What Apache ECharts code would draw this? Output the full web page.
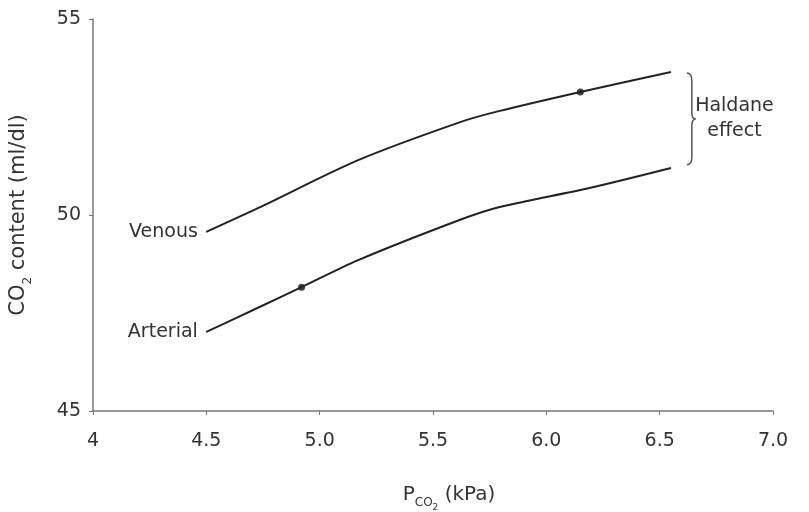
<!DOCTYPE html>
<html>
<head>
<meta charset="utf-8">
<title>Haldane effect</title>
<script src="https://cdn.jsdelivr.net/npm/echarts@6/dist/echarts.min.js"></script>
<style>
  html, body { margin: 0; padding: 0; background: #fff; }
  #chart { width: 809px; height: 512px; }
</style>
</head>
<body>
<div id="chart"></div>
<script>
// P_CO2 (kPa) and CO2 content (ml/dl)
const venousX = [4.5, 4.73, 5.17, 5.62, 5.79, 6.15, 6.55]
const venousY = [49.57, 50.18, 51.4, 52.37, 52.65, 53.14, 53.65]
const arterialX = [4.5, 4.73, 4.92, 5.17, 5.62, 5.79, 6.19, 6.55]
const arterialY = [47.02, 47.64, 48.16, 48.85, 49.88, 50.2, 50.69, 51.2]
// marked points on each curve
const pointsX = [6.15, 4.92]
const pointsY = [53.14, 48.16]
const lineNames = ['Venous', 'Arterial']
// Haldane effect bracket
const bracketX = [6.62]
const bracketY = [53.62, 51.28]
const bracketText = ['Haldane', 'effect']
const bracketTextPos = [6.83, 52.45]

const xTicks = { min: 4, max: 7, interval: 0.5 }
const yTicks = { min: 45, max: 55, interval: 5 }

const font = 'DejaVu Sans'
const textColor = '#333'

const chart = echarts.init(document.getElementById('chart'))

const pairs = (xs, ys) => xs.map((x, i) => [x, ys[i]])

// put the curve name to the left of its first point
function withStartLabel (data, text) {
  data[0] = {
    value: data[0],
    symbol: 'circle',
    symbolSize: 1,
    label: {
      show: true,
      position: 'left',
      distance: 8,
      formatter: text,
      fontFamily: font,
      fontSize: 19,
      color: textColor
    }
  }
  return data
}

const option = {
  backgroundColor: '#fff',
  animation: false,
  grid: { left: 93, right: 36, top: 19, bottom: 101, outerBoundsMode: 'none' },
  xAxis: {
    type: 'value',
    min: xTicks.min,
    max: xTicks.max,
    interval: xTicks.interval,
    splitLine: { show: false },
    axisLine: { lineStyle: { color: '#777', width: 1.5 } },
    axisTick: { length: 4, lineStyle: { color: '#777' } },
    axisLabel: {
      margin: 21,
      fontFamily: font,
      fontSize: 19,
      color: textColor,
      formatter: v => (v === 4 ? '4' : v.toFixed(1))
    },
    name: '{p|P}{s|CO}{ss|2}{p| (kPa)}',
    nameLocation: 'middle',
    nameGap: 70,
    nameTextStyle: {
      padding: [0, 0, 0, 32],
      rich: {
        p: { fontFamily: font, fontSize: 20, color: textColor, verticalAlign: 'bottom', lineHeight: 24 },
        s: { fontFamily: font, fontSize: 12, color: textColor, verticalAlign: 'bottom', lineHeight: 14, padding: [0, 0, -4, 0] },
        ss: { fontFamily: font, fontSize: 9, color: textColor, verticalAlign: 'bottom', lineHeight: 12, padding: [0, 0, -7, 0] }
      }
    }
  },
  yAxis: {
    type: 'value',
    min: yTicks.min,
    max: yTicks.max,
    interval: yTicks.interval,
    splitLine: { show: false },
    axisLine: { show: true, lineStyle: { color: '#777', width: 1.5 } },
    axisTick: { show: true, length: 4, lineStyle: { color: '#777' } },
    axisLabel: {
      margin: 12,
      fontFamily: font,
      fontSize: 19,
      color: textColor
    },
    name: '{p|CO}{s|2}{p| content (ml/dl)}',
    nameLocation: 'middle',
    nameGap: 64,
    nameRotate: 90,
    nameTextStyle: {
      rich: {
        p: { fontFamily: font, fontSize: 21, color: textColor, verticalAlign: 'bottom', lineHeight: 24 },
        s: { fontFamily: font, fontSize: 12, color: textColor, verticalAlign: 'bottom', lineHeight: 14, padding: [0, 0, -5, 0] }
      }
    }
  },
  series: [
    {
      name: lineNames[0],
      type: 'line',
      smooth: 0.3,
      symbol: 'none',
      lineStyle: { color: '#222', width: 2 },
      itemStyle: { color: '#222' },
      data: withStartLabel(pairs(venousX, venousY), lineNames[0])
    },
    {
      name: lineNames[1],
      type: 'line',
      smooth: 0.3,
      symbol: 'none',
      lineStyle: { color: '#222', width: 2 },
      itemStyle: { color: '#222' },
      data: withStartLabel(pairs(arterialX, arterialY), lineNames[1])
    },
    {
      type: 'scatter',
      symbolSize: 7,
      itemStyle: { color: '#111' },
      data: pairs(pointsX, pointsY)
    },
    {
      type: 'custom',
      silent: true,
      data: [[bracketX[0], bracketY[0], bracketY[1]]],
      renderItem (params, api) {
        const top = api.coord([api.value(0), api.value(1)])
        const bot = api.coord([api.value(0), api.value(2)])
        const x = top[0]
        const mid = (top[1] + bot[1]) / 2
        const d = [
          'M', x, top[1],
          'Q', x + 5, top[1], x + 5, top[1] + 8,
          'L', x + 5, mid - 6,
          'Q', x + 5, mid, x + 9, mid,
          'Q', x + 5, mid, x + 5, mid + 6,
          'L', x + 5, bot[1] - 8,
          'Q', x + 5, bot[1], x, bot[1]
        ].join(' ')
        const tp = api.coord(bracketTextPos)
        return {
          type: 'group',
          children: [
            {
              type: 'path',
              shape: { pathData: d },
              style: { fill: 'none', stroke: '#555', lineWidth: 1.5 }
            },
            {
              type: 'text',
              x: tp[0],
              y: tp[1],
              style: {
                text: bracketText.join('\n'),
                font: '19px "DejaVu Sans"',
                fill: textColor,
                align: 'center',
                verticalAlign: 'middle',
                lineHeight: 25
              }
            }
          ]
        }
      }
    }
  ]
}

chart.setOption(option)
</script>
</body>
</html>
